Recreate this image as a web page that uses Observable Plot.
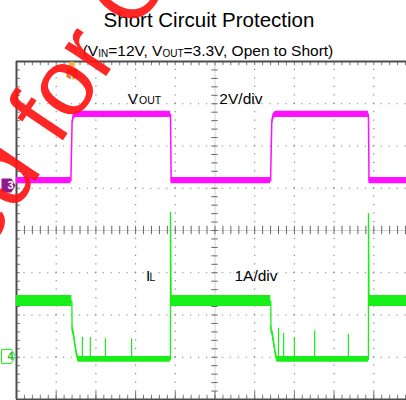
<!DOCTYPE html>
<html><head><meta charset="utf-8">
<script src="https://cdn.jsdelivr.net/npm/d3@7"></script>
<script src="https://cdn.jsdelivr.net/npm/@observablehq/plot@0.6"></script>
<style>
html,body{margin:0;padding:0;background:#fff}
body{width:406px;height:400px;overflow:hidden;position:relative;font-family:"Liberation Sans",Arial,sans-serif}
#head{height:58px;position:relative}
#title{position:absolute;left:6px;width:406px;top:9.6px;text-align:center;font-size:20.5px;line-height:1;color:#000}
#sub{position:absolute;left:5px;width:406px;top:42.5px;text-align:center;font-size:15.5px;line-height:1;color:#000}
#sub span{font-size:10px;position:relative;top:1.5px}
#chart svg{display:block;overflow:visible}
#wm{position:absolute;left:-82px;top:212px;font-size:95px;line-height:1;color:rgba(255,20,20,0.92);transform-origin:0 0;transform:rotate(-56deg);white-space:nowrap;pointer-events:none;z-index:5}
</style></head>
<body>
<div id="head">
  <div id="title">Short Circuit Protection</div>
  <div id="sub">(V<span>IN</span>=12V, V<span>OUT</span>=3.3V, Open to Short)</div>
</div>
<div id="chart"></div>
<div id="wm">ed for C</div>
<script>
// Time axis in scope divisions (10 div full screen), vertical in divisions (±4)
// VOUT trace (CH3, 2V/div)
const vout_t = [0, 1.37, 1.40, 1.43, 1.50, 3.88, 3.895, 6.40, 6.43, 6.46, 6.52, 8.865, 8.88, 9.83];
const vout_v = [1.18, 1.18, 2.55, 2.70, 2.75, 2.75, 1.18, 1.18, 2.55, 2.70, 2.75, 2.75, 1.18, 1.18];
const vout_n = [0.075, 0.075, 0.04, 0.06, 0.075, 0.075, 0.075, 0.075, 0.04, 0.06, 0.075, 0.075, 0.075, 0.075];
// IL trace (CH4, 1A/div)
const il_t = [0, 1.395, 1.40, 1.43, 1.50, 1.55, 3.878, 3.879, 3.895, 6.405, 6.41, 6.44, 6.51, 6.56, 8.865, 8.866, 8.88, 9.83];
const il_v = [-1.67, -1.67, -2.32, -2.40, -2.85, -3.05, -3.05, 0.43, -1.67, -1.67, -2.32, -2.40, -2.85, -3.05, -3.05, 0.40, -1.67, -1.67];
const il_n = [0.13, 0.13, 0.09, 0.09, 0.08, 0.07, 0.07, 0, 0.13, 0.13, 0.09, 0.09, 0.08, 0.07, 0.07, 0, 0.13, 0.13];
// IL spikes during short
const spike_t = [1.66, 1.86, 2.24, 2.90, 6.60, 6.73, 7.00, 7.51, 8.36];
const spike_v = [-2.53, -2.53, -2.56, -2.56, -2.32, -2.43, -2.53, -2.37, -2.46];
const il_low = -3.05;
// channel ground markers and trigger
const ch_labels = ["3", "4"];
const ch_levels = [1.065, -2.98];
const trigger_t = [1.395];
// annotation labels
const lab_text = ["V", "2V/div", "I", "1A/div"];
const lab_t = [2.80, 5.11, 3.26, 5.49];
const lab_v = [3.10, 3.10, -1.07, -1.07];
const sub_text = ["OUT", "L"];
const sub_t = [3.085, 3.35];
const sub_v = [3.065, -1.11];

const vout = vout_t.map((t, i) => ({t, v: vout_v[i], n: vout_n[i]}));
const il = il_t.map((t, i) => ({t, v: il_v[i], n: il_n[i]}));
const spikes = spike_t.map((t, i) => ({t, v: spike_v[i]}));
const labels = lab_text.map((s, i) => ({s, t: lab_t[i], v: lab_v[i]}));
const subs = sub_text.map((s, i) => ({s, t: sub_t[i], v: sub_v[i]}));

const XMAX = 9.824;
const minorX = d3.range(0, 10.01, 0.2);
const minorY = d3.range(-4, 4.01, 0.2);
const majorX = d3.range(0, 11, 1);

const MAG = "#ff10ff", GRN = "#18ee18", GRID = "#8c8c8c", BORDER = "#4d4d4d";

const chanSym = {draw(ctx, size){const r = Math.sqrt(size/Math.PI);
  ctx.moveTo(-r, -r); ctx.lineTo(0.4*r, -r); ctx.lineTo(r, 0); ctx.lineTo(0.4*r, r); ctx.lineTo(-r, r); ctx.closePath();}};
const trigSym = {draw(ctx, size){const r = Math.sqrt(size/Math.PI);
  ctx.moveTo(-r, -r); ctx.lineTo(r, -r); ctx.lineTo(r, 0.45*r); ctx.lineTo(0, r); ctx.lineTo(-r, 0.45*r); ctx.closePath();}};

const chart = Plot.plot({
  width: 406, height: 342,
  marginTop: 3, marginBottom: 1, marginLeft: 16, marginRight: 0,
  x: {domain: [0, XMAX], axis: null},
  y: {domain: [-4, 4], axis: null},
  style: {background: "#fff", overflow: "visible", fontFamily: "Liberation Sans, Arial, sans-serif"},
  marks: [
    // dotted grid
    Plot.ruleX([1,2,3,4,6,7,8,9], {y1: -4, y2: 4, stroke: GRID, strokeWidth: 1.2, strokeDasharray: "1.3,7.15", strokeDashoffset: 0.65}),
    Plot.ruleY([-3,-2,-1,1,2,3], {x1: 0, x2: XMAX, stroke: GRID, strokeWidth: 1.2, strokeDasharray: "1.3,6.64", strokeDashoffset: 0.65}),
    // centre axes
    Plot.ruleX([5], {y1: -4, y2: 4, stroke: "#c8c8c8", strokeWidth: 0.8}),
    Plot.ruleY([0], {x1: 0, x2: XMAX, stroke: "#c8c8c8", strokeWidth: 0.8}),
    Plot.ruleY(minorY, {x1: 4.92, x2: 5.08, stroke: "#666", strokeWidth: 1}),
    Plot.ruleX(minorX, {y1: -0.1, y2: 0.1, stroke: "#666", strokeWidth: 1}),
    // border ticks
    Plot.ruleY(minorY, {x1: 0, x2: 0.1, stroke: "#777", strokeWidth: 1}),
    Plot.ruleX(minorX, {y1: -4, y2: -3.9, stroke: "#777", strokeWidth: 1}),
    Plot.ruleX(minorX, {y1: 4, y2: 3.9, stroke: "#777", strokeWidth: 1}),
    Plot.ruleX(majorX, {y1: -4, y2: -3.82, stroke: "#777", strokeWidth: 1}),
    // border
    Plot.ruleX([0], {y1: -4, y2: 4, stroke: BORDER, strokeWidth: 2}),
    Plot.ruleY([4, -4], {x1: 0, x2: XMAX, stroke: BORDER, strokeWidth: 2}),
    // VOUT trace
    Plot.areaY(vout, {x: "t", y1: d => d.v - d.n, y2: d => d.v + d.n, fill: MAG}),
    Plot.line(vout, {x: "t", y: "v", stroke: MAG, strokeWidth: 1.5}),
    // IL trace
    Plot.areaY(il, {x: "t", y1: d => d.v - d.n, y2: d => d.v + d.n, fill: GRN}),
    Plot.line(il, {x: "t", y: "v", stroke: GRN, strokeWidth: 1.3}),
    Plot.ruleX(spikes, {x: "t", y1: il_low, y2: "v", stroke: GRN, strokeWidth: 1.2}),
    // labels
    Plot.text(labels, {x: "t", y: "v", text: "s", textAnchor: "start", fontSize: 15.5, fill: "#000"}),
    Plot.text(subs, {x: "t", y: "v", text: "s", textAnchor: "start", fontSize: 10.5, fill: "#000"}),
    // channel markers
    Plot.dot([ch_levels[0]], {y: d => d, frameAnchor: "left", dx: -8, r: 7, symbol: chanSym, fill: "#8e1a8e", stroke: "none"}),
    Plot.text([ch_labels[0]], {y: () => ch_levels[0], text: d => d, frameAnchor: "left", dx: -9, fill: "#fff", fontSize: 11, fontWeight: "bold"}),
    Plot.dot([ch_levels[1]], {y: d => d, frameAnchor: "left", dx: -8, r: 7, symbol: chanSym, fill: "#fff", stroke: GRN, strokeWidth: 1}),
    Plot.text([ch_labels[1]], {y: () => ch_levels[1], text: d => d, frameAnchor: "left", dx: -9, fill: "#22c022", fontSize: 11, fontWeight: "bold"}),
    // trigger marker
    Plot.dot(trigger_t, {x: d => d, frameAnchor: "top", dy: 3, r: 3, fill: "#f2b13c", stroke: "none"}),
    Plot.dot(trigger_t, {x: d => d, frameAnchor: "top", dy: 13, r: 5.5, symbol: trigSym, fill: "#e67e1a", stroke: "none"}),
    Plot.text(trigger_t, {x: d => d, frameAnchor: "top", dy: 13, text: () => "T", fill: "#fff", fontSize: 10, fontWeight: "bold"})
  ]
});
document.getElementById("chart").appendChild(chart);
</script>
</body></html>
